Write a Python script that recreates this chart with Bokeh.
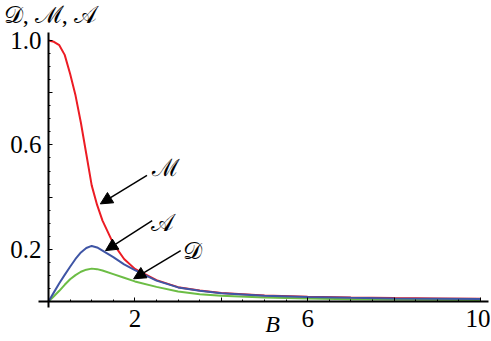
from bokeh.plotting import figure
from bokeh.models import Range1d, FixedTicker, Label, Arrow, NormalHead
from bokeh.embed import file_html
from bokeh.resources import INLINE

# ---- data ----
B = [0, 0.125, 0.25, 0.375, 0.5, 0.625, 0.75, 0.875, 1.0, 1.125, 1.25, 1.5, 1.75, 2.0,
     2.5, 3.0, 3.5, 4.0, 5.0, 6.0, 7.0, 8.0, 9.0, 10.0]
M_vals = [1.0, 0.995, 0.982, 0.945, 0.873, 0.79, 0.685, 0.565, 0.445, 0.37, 0.31, 0.222, 0.163, 0.125,
          0.082, 0.055, 0.042, 0.033, 0.023, 0.018, 0.015, 0.013, 0.012, 0.011]
A_vals = [0.0, 0.035, 0.07, 0.102, 0.133, 0.163, 0.188, 0.205, 0.213, 0.207, 0.195, 0.17, 0.142, 0.12,
          0.08, 0.054, 0.041, 0.032, 0.022, 0.017, 0.014, 0.012, 0.011, 0.010]
D_vals = [0.0, 0.02, 0.041, 0.064, 0.085, 0.101, 0.114, 0.122, 0.126, 0.124, 0.119, 0.105, 0.091, 0.077,
          0.056, 0.038, 0.028, 0.022, 0.015, 0.012, 0.009, 0.008, 0.007, 0.006]

x_major = [2, 4, 6, 8, 10]
x_labels = {2: "2", 4: "", 6: "6", 8: "", 10: "10"}
y_major = [0.2, 0.4, 0.6, 0.8, 1.0]
y_labels = {0.2: "0.2", 0.4: "", 0.6: "0.6", 0.8: "", 1.0: "1.0"}

y_title = "𝒟, ℳ, 𝒜"
x_title = "B"
series_names = ["ℳ", "𝒜", "𝒟"]

SERIF = "Liberation Serif"

p = figure(width=490, height=340, output_backend="svg", toolbar_location=None,
           x_range=Range1d(-1.1111, 10.2315), y_range=Range1d(-0.1494, 1.1533),
           min_border_left=0, min_border_right=0, min_border_top=0, min_border_bottom=0)
p.outline_line_color = None
p.grid.visible = False
p.background_fill_color = "white"

p.line(B, M_vals, line_color="#EC1C24", line_width=2)
p.line(B, D_vals, line_color="#6CBD45", line_width=2)
p.line(B, A_vals, line_color="#3F55A5", line_width=2)

for ax in (p.xaxis[0], p.yaxis[0]):
    ax.fixed_location = 0
    ax.axis_line_width = 2
    ax.axis_line_color = "black"
    ax.major_tick_in = 4
    ax.major_tick_out = 0
    ax.minor_tick_in = 2
    ax.minor_tick_out = 0
    ax.major_tick_line_color = "black"
    ax.minor_tick_line_color = "black"
    ax.major_label_text_font = SERIF
    ax.major_label_text_font_size = "25px"
    ax.major_label_text_color = "black"

p.xaxis.bounds = (-0.231, 10.185)
p.yaxis.bounds = (-0.023, 1.031)
p.xaxis.ticker = FixedTicker(ticks=x_major, minor_ticks=[0.5 * i for i in range(1, 21)])
p.xaxis.major_label_overrides = x_labels
p.xaxis.major_label_standoff = 8
p.yaxis.ticker = FixedTicker(ticks=y_major, minor_ticks=[0.05 * i for i in range(1, 21)])
p.yaxis.major_label_overrides = y_labels
p.yaxis.major_label_standoff = 7

# axis titles
p.add_layout(Label(x=-1.035, y=1.0996, text=y_title, text_font=SERIF, text_font_size="24px",
                   text_align="left", text_baseline="middle", text_color="black"))
p.add_layout(Label(x=5.185, y=-0.0843, text=x_title, text_font=SERIF, text_font_style="italic",
                   text_font_size="24px", text_align="center", text_baseline="middle",
                   text_color="black"))

# arrow annotations
arrows = [
    ((2.28, 0.483), (1.20, 0.374), (2.71, 0.51)),
    ((2.40, 0.31), (1.32, 0.195), (2.64, 0.30)),
    ((3.06, 0.195), (1.97, 0.087), (3.33, 0.195)),
]
for name, (start, end, lab) in zip(series_names, arrows):
    p.add_layout(Arrow(end=NormalHead(size=12, fill_color="black", line_color="black"),
                       x_start=start[0], y_start=start[1], x_end=end[0], y_end=end[1],
                       line_width=1.5, line_color="black"))
    p.add_layout(Label(x=lab[0], y=lab[1], text=name, text_font=SERIF, text_font_size="24px",
                       text_align="center", text_baseline="middle", text_color="black"))

open("out.html", "w").write(file_html(p, INLINE))
